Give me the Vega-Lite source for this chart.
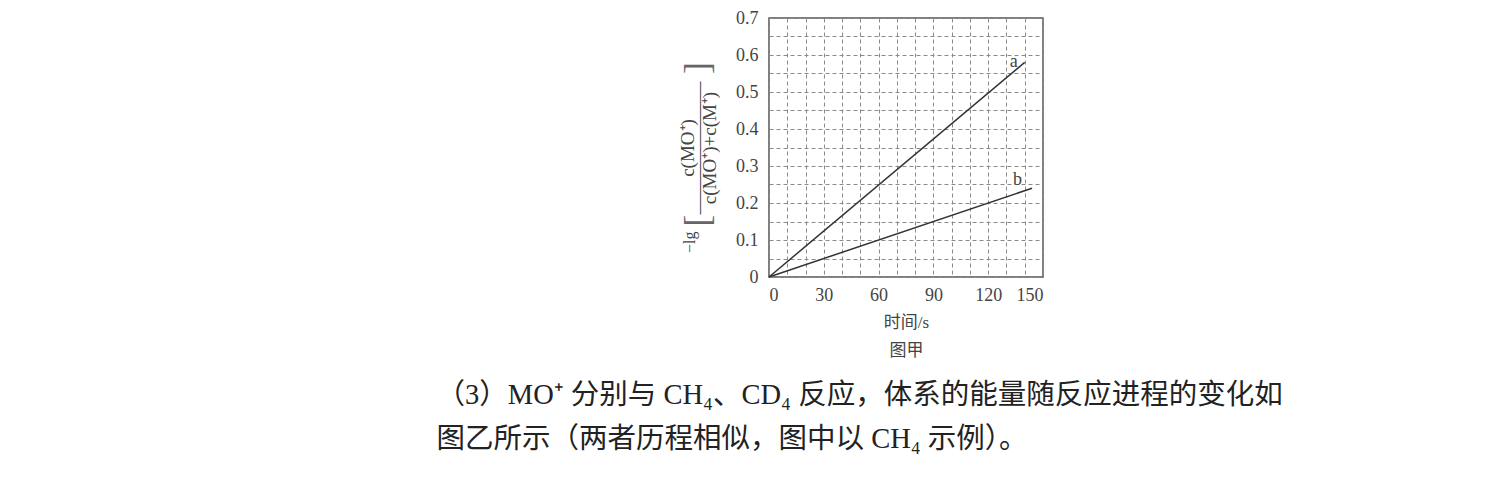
{
  "$schema": "https://vega.github.io/schema/vega-lite/v6.json",
  "width": 274,
  "height": 259,
  "autosize": {"type": "none"},
  "padding": {"left": 769, "top": 18, "right": 457, "bottom": 209},
  "background": "white",
  "config": {
    "font": "Liberation Serif, Noto Sans CJK SC",
    "view": {"stroke": "#555", "strokeWidth": 1.5},
    "text": {"font": "Liberation Serif, Noto Sans CJK SC", "color": "#333"}
  },
  "datasets": {
    "lines": [
      {"series": "a", "t": 0, "v": 0},
      {"series": "a", "t": 140, "v": 0.58},
      {"series": "b", "t": 0, "v": 0},
      {"series": "b", "t": 144, "v": 0.24}
    ],
    "linelabels": [
      {"label": "a", "t": 134, "v": 0.582},
      {"label": "b", "t": 136, "v": 0.262}
    ],
    "lg": [
      {"label": "−lg", "t": -43, "v": 0.094}
    ],
    "brackets": [
      {"label": "[", "t": -39, "v": 0.152},
      {"label": "]", "t": -39, "v": 0.565}
    ],
    "para": [
      {"line": "（3）MO⁺ 分别与 CH₄、CD₄ 反应，体系的能量随反应进程的变化如", "t": -182, "v": -0.318},
      {"line": "图乙所示（两者历程相似，图中以 CH₄ 示例）。", "t": -182, "v": -0.439}
    ]
  },
  "encoding": {
    "x": {
      "field": "t", "type": "quantitative",
      "scale": {"domain": [0, 150], "nice": false},
      "axis": {
        "values": [0, 10, 20, 30, 40, 50, 60, 70, 80, 90, 100, 110, 120, 130, 140, 150],
        "labelExpr": "datum.value % 30 === 0 ? datum.label : ''",
        "labelOverlap": false,
        "grid": true, "gridDash": [4, 3], "gridColor": "#8a8a8a", "gridWidth": 1,
        "ticks": false, "tickSize": 0, "domain": false,
        "labelFontSize": 18, "labelColor": "#444", "labelPadding": 9, "labelFont": "Liberation Serif",
        "title": ["时间/s", "图甲"], "titleFontSize": 17, "titleFontWeight": "normal", "titleColor": "#444", "titlePadding": 10, "titleLineHeight": 28,
        "titleFont": "Liberation Serif, Noto Sans CJK SC"
      }
    },
    "y": {
      "field": "v", "type": "quantitative",
      "scale": {"domain": [0, 0.7], "nice": false},
      "axis": {
        "values": [0, 0.05, 0.1, 0.15, 0.2, 0.25, 0.3, 0.35, 0.4, 0.45, 0.5, 0.55, 0.6, 0.65, 0.7],
        "labelExpr": "abs(datum.value * 10 - round(datum.value * 10)) < 0.001 ? format(datum.value, '.1~f') : ''",
        "labelOverlap": false,
        "grid": true, "gridDash": [4, 3], "gridColor": "#8a8a8a", "gridWidth": 1,
        "ticks": false, "tickSize": 0, "domain": false,
        "labelFontSize": 18, "labelColor": "#444", "labelPadding": 11, "labelFont": "Liberation Serif",
        "title": ["c(MO⁺)", "———————", "c(MO⁺)+c(M⁺)"],
        "titleFontSize": 19, "titleFontWeight": "normal", "titleColor": "#444", "titlePadding": 16, "titleLineHeight": 11,
        "titleFont": "Liberation Serif"
      }
    }
  },
  "layer": [
    {
      "data": {"name": "lines"},
      "mark": {"type": "line", "color": "#333", "strokeWidth": 1.5},
      "encoding": {
        "detail": {"field": "series"}
      }
    },
    {
      "data": {"name": "linelabels"},
      "mark": {"type": "text", "fontSize": 18, "color": "#444", "baseline": "middle", "align": "center", "clip": false},
      "encoding": {
        "text": {"field": "label"}
      }
    },
    {
      "data": {"name": "lg"},
      "mark": {"type": "text", "fontSize": 16, "angle": 270, "color": "#444", "baseline": "middle", "align": "center", "clip": false},
      "encoding": {
        "text": {"field": "label"}
      }
    },
    {
      "data": {"name": "brackets"},
      "mark": {"type": "text", "fontSize": 36, "angle": 270, "color": "#666", "baseline": "middle", "align": "center", "clip": false, "fontWeight": "normal"},
      "encoding": {
        "text": {"field": "label"}
      }
    },
    {
      "data": {"name": "para"},
      "mark": {"type": "text", "fontSize": 28.5, "color": "#222", "baseline": "middle", "align": "left", "clip": false},
      "encoding": {
        "text": {"field": "line"}
      }
    }
  ]
}
